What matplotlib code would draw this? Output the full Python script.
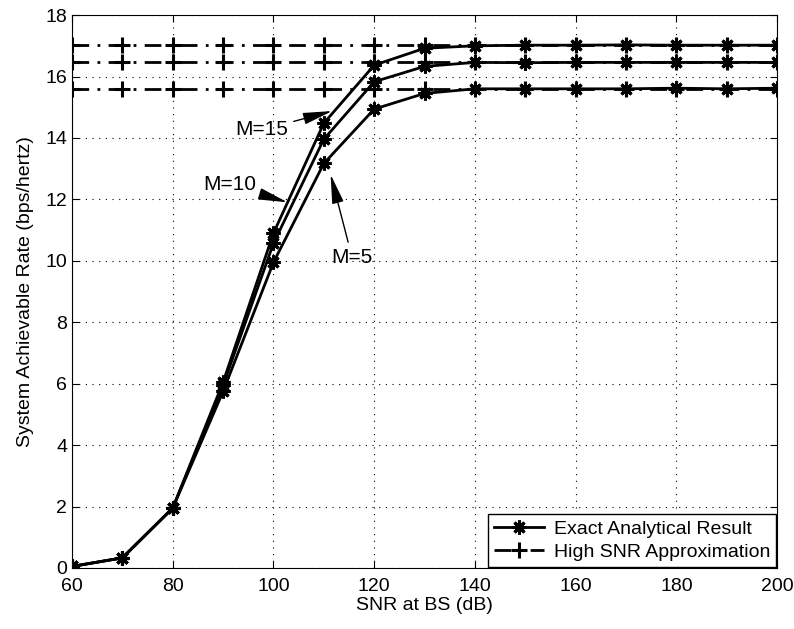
import numpy as np
import matplotlib.pyplot as plt

plt.rcParams['font.family'] = ['Liberation Sans', 'DejaVu Sans']

# SNR at BS (dB)
snr = [60, 70, 80, 90, 100, 110, 120, 130, 140, 150, 160, 170, 180, 190, 200]

# exact analytical result for M = 5, 10, 15
rate_m5 = [0.05, 0.33, 1.95, 5.75, 9.95, 13.17, 14.94, 15.45, 15.6, 15.6, 15.6, 15.6, 15.62, 15.6, 15.62]
rate_m10 = [0.05, 0.33, 1.95, 5.95, 10.57, 13.96, 15.83, 16.33, 16.46, 16.45, 16.46, 16.46, 16.46, 16.46, 16.46]
rate_m15 = [0.05, 0.33, 1.95, 6.05, 10.9, 14.48, 16.37, 16.92, 17.0, 17.02, 17.02, 17.03, 17.02, 17.02, 17.02]

# high SNR approximation levels
approx = [15.6, 16.46, 17.02]

fig = plt.figure(figsize=(7.94, 6.29), dpi=100)
ax = fig.add_axes([0.0907, 0.097, 0.888, 0.879])

ast = (8, 2, 0)
for r in [rate_m5, rate_m10, rate_m15]:
    ax.plot(snr, r, color='k', linewidth=2, marker=ast, markersize=10, markeredgewidth=2.2)
for a in approx:
    ax.plot(snr, [a] * len(snr), color='k', linestyle='-.', linewidth=2,
            dashes=(6, 3, 1, 3), marker='+', markersize=11, markeredgewidth=2.2)

h1, = ax.plot([], [], color='k', linewidth=2, marker=ast, markersize=10, markeredgewidth=2.2)
h2, = ax.plot([], [], color='k', linestyle='-.', linewidth=2, dashes=(6, 3, 1, 3),
              marker='+', markersize=11, markeredgewidth=2.2)
leg = ax.legend([h1, h2], ['Exact Analytical Result', 'High SNR Approximation'],
                loc='lower right', fontsize=14, fancybox=False, framealpha=1,
                edgecolor='k', borderaxespad=0.05, handlelength=2.6,
                handletextpad=0.5, borderpad=0.3, labelspacing=0.3)
leg.get_frame().set_linewidth(1)

arr = dict(arrowstyle='-|>,head_length=0.9,head_width=0.18', color='k', linewidth=1, mutation_scale=20)
ax.annotate('M=15', xy=(112.2, 14.9), xytext=(97.7, 14.26), fontsize=15,
            ha='center', va='center', arrowprops=arr)
ax.annotate('M=10', xy=(103.3, 11.88), xytext=(91.4, 12.47), fontsize=15,
            ha='center', va='center', arrowprops=arr)
ax.annotate('M=5', xy=(111.2, 12.9), xytext=(115.6, 10.12), fontsize=15,
            ha='center', va='center', arrowprops=arr)

ax.set_xlim(60, 200)
ax.set_ylim(0, 18)
ax.set_xticks(np.arange(60, 201, 20))
ax.set_yticks(np.arange(0, 19, 2))
ax.grid(True, linestyle=(0, (1, 5)), color='k', linewidth=0.8)
ax.tick_params(direction='in', top=True, right=True, labelsize=14, length=5)
ax.tick_params(axis='x', pad=7)
ax.set_xlabel('SNR at BS (dB)', fontsize=14, labelpad=2)
ax.set_ylabel('System Achievable Rate (bps/hertz)', fontsize=14, labelpad=8)

fig.savefig('out.png', dpi=100)
